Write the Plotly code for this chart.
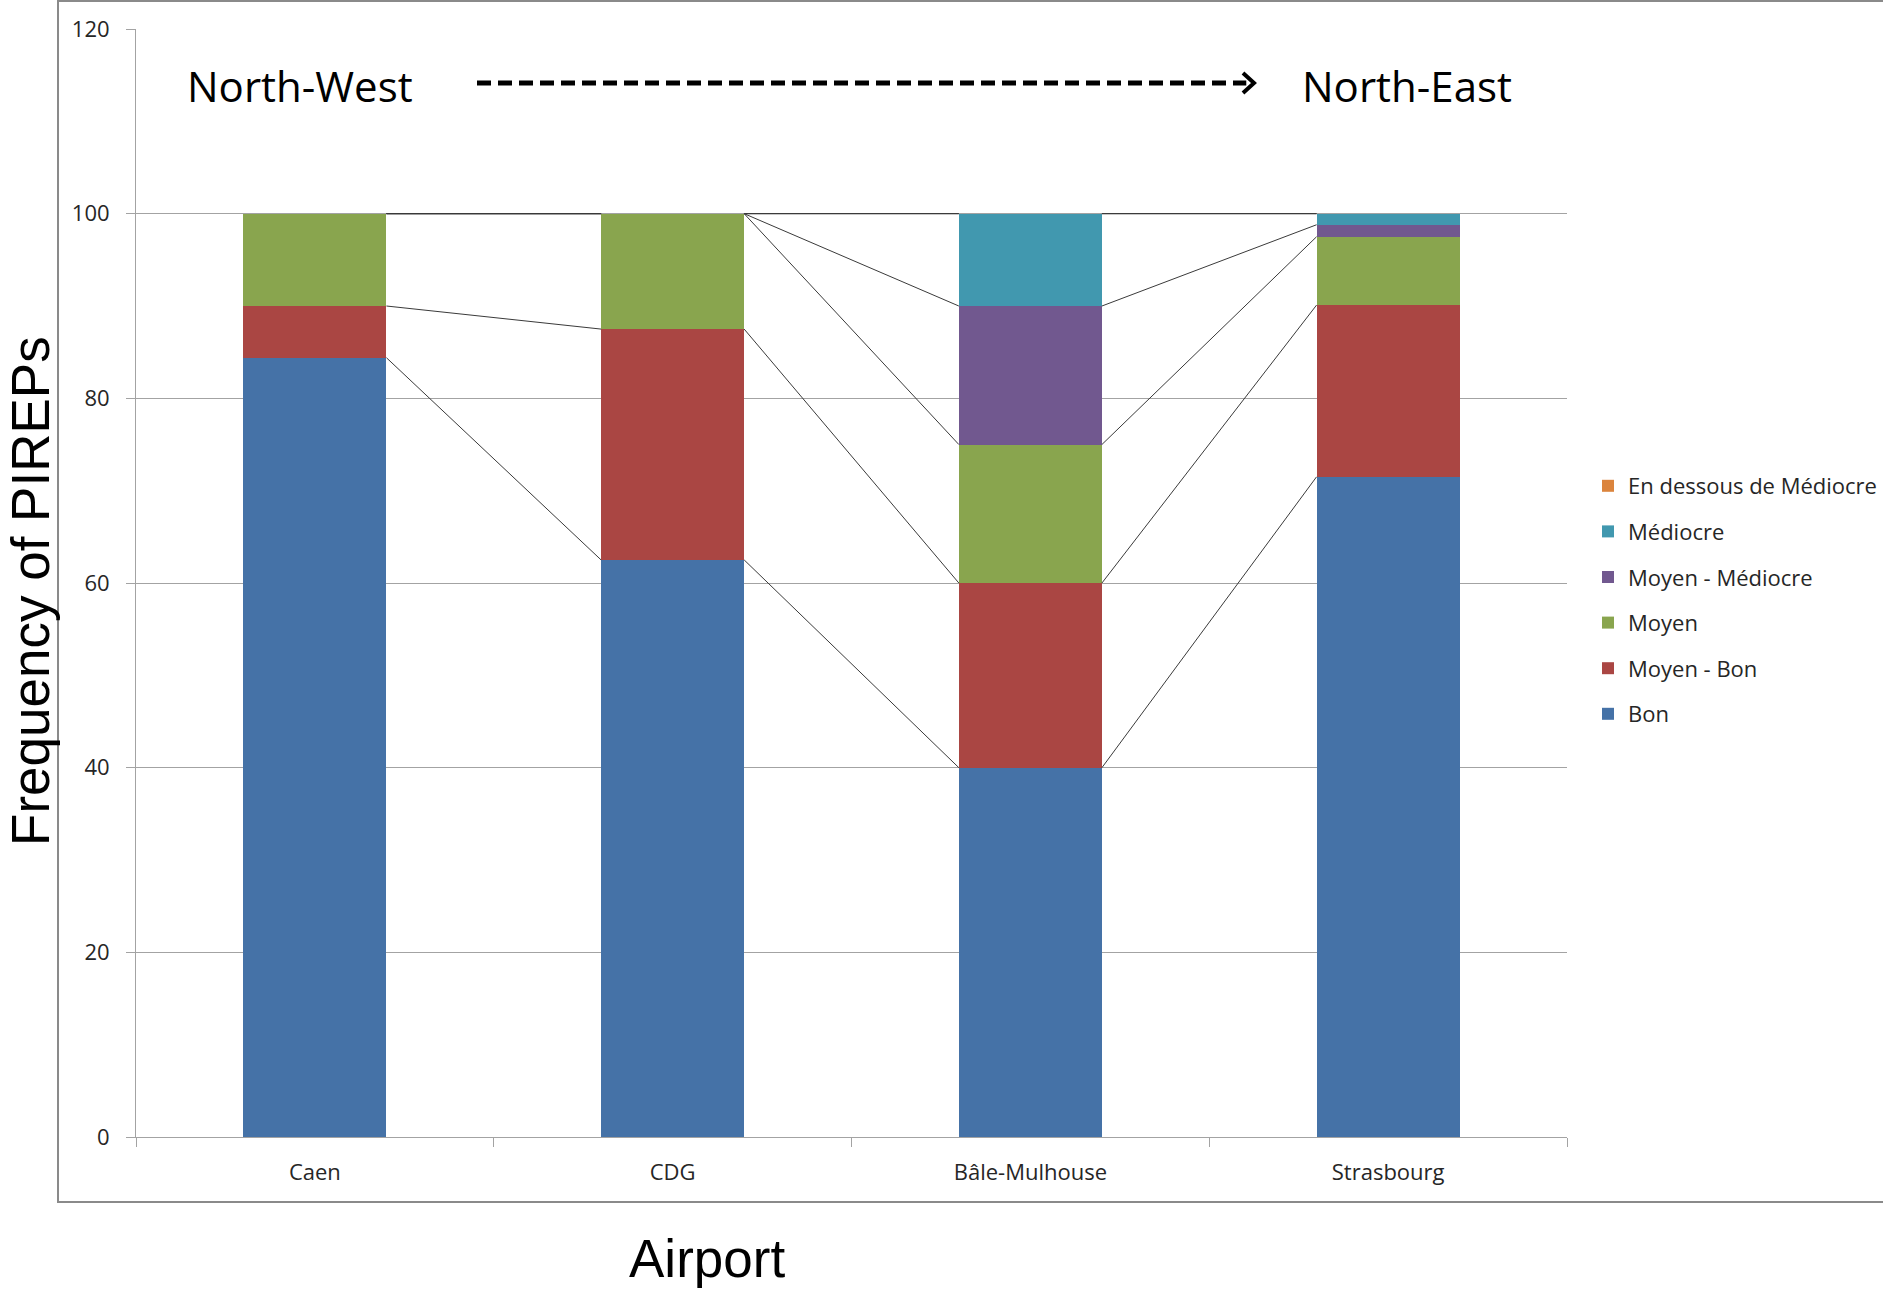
import plotly.graph_objects as go
import numpy as np

airports = ["Caen", "CDG", "Bâle-Mulhouse", "Strasbourg"]
series_names = ["Bon", "Moyen - Bon", "Moyen", "Moyen - Médiocre", "Médiocre", "En dessous de Médiocre"]
bon = [84.4, 62.5, 40.0, 71.5]
moyen_bon = [5.6, 25.0, 20.0, 18.6]
moyen = [10.0, 12.5, 15.0, 7.4]
moyen_mediocre = [0.0, 0.0, 15.0, 1.3]
mediocre = [0.0, 0.0, 10.0, 1.2]
en_dessous = [0.0, 0.0, 0.0, 0.0]
y_ticks = [0, 20, 40, 60, 80, 100, 120]

series_values = [bon, moyen_bon, moyen, moyen_mediocre, mediocre, en_dessous]
colors = ["#4572A7", "#AA4643", "#89A54E", "#71588F", "#4198AF", "#DB843D"]

BAR_W = 0.4
xpos = list(range(len(airports)))

fig = go.Figure()
n_series = len(series_names)
for k, (name, vals, col) in enumerate(zip(series_names, series_values, colors)):
    fig.add_trace(go.Bar(
        x=xpos, y=vals, name=name, width=BAR_W,
        marker=dict(color=col, line=dict(width=0)),
        legendgroup=name, legendrank=n_series - k,
    ))

# Series lines (Excel style) connecting cumulative tops between neighbouring bars
cum = np.cumsum(np.array(series_values), axis=0)
lx, ly = [], []
for k in range(cum.shape[0]):
    for i in range(len(airports) - 1):
        lx += [xpos[i] + BAR_W / 2, xpos[i + 1] - BAR_W / 2, None]
        ly += [cum[k][i], cum[k][i + 1], None]
fig.add_trace(go.Scatter(x=lx, y=ly, mode="lines", line=dict(color="#3a3a3a", width=1),
                         showlegend=False, hoverinfo="skip"))

grid_col = "#a3a3a3"
tick_font = dict(family="Open Sans", size=22, color="#262626")

fig.update_layout(
    width=1883, height=1290,
    margin=dict(l=136, r=316, t=29, b=153, autoexpand=False),
    barmode="stack",
    plot_bgcolor="white", paper_bgcolor="white",
    xaxis=dict(
        range=[-0.5, 3.5], tickvals=xpos, ticktext=airports, ticks="",
        showgrid=False, zeroline=False, showline=True, linecolor=grid_col, linewidth=1,
        tickfont=tick_font, ticklabelstandoff=16,
        minor=dict(tickvals=[-0.5, 0.5, 1.5, 2.5, 3.5], ticks="outside", ticklen=9,
                   tickcolor=grid_col, showgrid=False),
    ),
    yaxis=dict(
        range=[0, 120], tickvals=y_ticks, ticks="outside", ticklen=9, tickcolor=grid_col,
        showgrid=True, gridcolor=grid_col, gridwidth=1, zeroline=False,
        showline=True, linecolor=grid_col, linewidth=1,
        tickfont=tick_font, ticklabelstandoff=12,
    ),
    legend=dict(
        xref="container", yref="container",
        x=1588 / 1883, xanchor="left", y=(1290 - 600) / 1290, yanchor="middle",
        traceorder="grouped", tracegroupgap=14,
        font=dict(family="Open Sans", size=22, color="#262626"),
        bgcolor="rgba(0,0,0,0)",
    ),
    showlegend=True,
)

# Chart frame
fig.add_shape(type="rect", xref="paper", yref="paper",
              x0=-0.0545, x1=1.235, y0=-0.0587, y1=1.0253,
              line=dict(color="#8a8a8a", width=2), fillcolor="rgba(0,0,0,0)", layer="below")

# Axis titles
fig.add_annotation(text="Frequency of PIREPs", xref="paper", yref="paper",
                   x=(31 - 136) / 1431, y=0.4928, textangle=-90, showarrow=False,
                   font=dict(family="Liberation Sans", size=53, color="black"),
                   xanchor="center", yanchor="middle")
fig.add_annotation(text="Airport", xref="paper", yref="paper",
                   x=0.399, y=-0.110, showarrow=False,
                   font=dict(family="Liberation Sans", size=53, color="black"),
                   xanchor="center", yanchor="middle")

# Direction labels and dashed arrow
fig.add_annotation(text="North-West", xref="paper", yref="paper",
                   x=(300 - 136) / 1431, y=(1137 - 86) / 1108, showarrow=False,
                   font=dict(family="Open Sans", size=42, color="black"),
                   xanchor="center", yanchor="middle")
fig.add_annotation(text="North-East", xref="paper", yref="paper",
                   x=(1407 - 136) / 1431, y=(1137 - 86) / 1108, showarrow=False,
                   font=dict(family="Open Sans", size=42, color="black"),
                   xanchor="center", yanchor="middle")
ax0 = (477 - 136) / 1431
ax1 = (1252 - 136) / 1431
ay = (1137 - 83) / 1108
fig.add_shape(type="line", xref="paper", yref="paper", x0=ax0, x1=ax1 - 0.004, y0=ay, y1=ay,
              line=dict(color="black", width=5, dash="14px,7px"))
fig.add_shape(type="path", xref="paper", yref="paper", xsizemode="pixel", ysizemode="pixel",
              xanchor=ax1, yanchor=ay,
              path="M -9,-10 L 2,0 L -9,10",
              line=dict(color="black", width=4))

fig.write_html("out.html")
